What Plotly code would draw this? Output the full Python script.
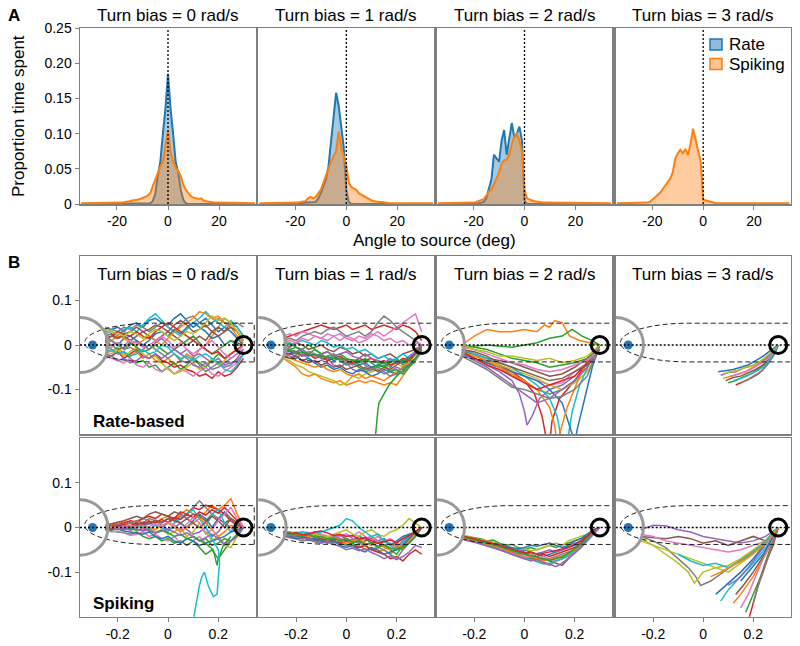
import plotly.graph_objects as go

W, H = 800, 646
FONT = "Liberation Sans, Arial, sans-serif"
FRAME = "#7f7f7f"
TAB10 = ["#1f77b4", "#ff7f0e", "#2ca02c", "#d62728", "#9467bd",
         "#8c564b", "#e377c2", "#7f7f7f", "#bcbd22", "#17becf"]

BIASES = ["0", "1", "2", "3"]
PANEL_TITLES = ["Turn bias = %s rad/s" % b for b in BIASES]
LEGEND_NAMES = ["Rate", "Spiking"]

# ---------------- Panel A: histograms (angle bins -34..34 deg) ----------------
HIST_ANGLES = list(range(-34, 35))

RATE_B0 = [0, 0, 0, 0, 0, 0, 0, 0, 0, 0,
           0, 0, 0, 0, 0, 0, 0, 0, 0, 0,
           0, 0, 0, 0, 0, 0, 0, 0.001, 0.004, 0.015,
           0.040, 0.060, 0.100, 0.135, 0.185, 0.135, 0.100, 0.060, 0.045, 0.020,
           0.006, 0.001, 0, 0, 0, 0, 0, 0, 0, 0,
           0, 0, 0, 0, 0, 0, 0, 0, 0, 0,
           0, 0, 0, 0, 0, 0, 0, 0, 0]
SPIKE_B0 = [0.001, 0.001, 0.001, 0.001, 0.001, 0.001, 0.001, 0.001, 0.001, 0.001,
            0.001, 0.001, 0.001, 0.001, 0.001, 0.002, 0.002, 0.003, 0.003, 0.004,
            0.005, 0.005, 0.006, 0.007, 0.008, 0.010, 0.012, 0.015, 0.025, 0.035,
            0.045, 0.053, 0.060, 0.080, 0.105, 0.075, 0.060, 0.052, 0.047, 0.040,
            0.027, 0.020, 0.015, 0.011, 0.009, 0.008, 0.007, 0.008, 0.005, 0.004,
            0.003, 0.003, 0.002, 0.002, 0.002, 0.001, 0.001, 0.001, 0.001, 0.001,
            0.001, 0.001, 0.001, 0.001, 0.001, 0.001, 0.001, 0.001, 0.001]
RATE_B1 = [0, 0, 0, 0, 0, 0, 0, 0, 0, 0,
           0, 0, 0, 0, 0.001, 0.001, 0.001, 0.001, 0.002, 0.002,
           0.002, 0.002, 0.003, 0.008, 0.015, 0.025, 0.035, 0.053, 0.090, 0.130,
           0.158, 0.140, 0.110, 0.080, 0.020, 0.003, 0, 0, 0, 0,
           0, 0, 0, 0, 0, 0, 0, 0, 0, 0,
           0, 0, 0, 0, 0, 0, 0, 0, 0, 0,
           0, 0, 0, 0, 0, 0, 0, 0, 0]
SPIKE_B1 = [0.001, 0.001, 0.001, 0.001, 0.001, 0.001, 0.001, 0.001, 0.001, 0.002,
            0.001, 0.001, 0.001, 0.001, 0.002, 0.002, 0.003, 0.003, 0.004, 0.008,
            0.010, 0.008, 0.010, 0.015, 0.020, 0.030, 0.040, 0.052, 0.060, 0.068,
            0.075, 0.103, 0.080, 0.068, 0.055, 0.030, 0.024, 0.022, 0.020, 0.015,
            0.013, 0.010, 0.008, 0.006, 0.005, 0.004, 0.003, 0.003, 0.003, 0.002,
            0.002, 0.001, 0.001, 0.001, 0.001, 0.001, 0.001, 0.001, 0.001, 0.001,
            0.001, 0.001, 0.001, 0.001, 0.001, 0.001, 0.001, 0.001, 0.001]
RATE_B2 = [0, 0, 0, 0, 0, 0, 0, 0, 0, 0,
           0, 0, 0, 0.001, 0.001, 0.001, 0.001, 0.002, 0.003, 0.008,
           0.020, 0.035, 0.070, 0.065, 0.060, 0.090, 0.105, 0.070, 0.090, 0.115,
           0.095, 0.100, 0.110, 0.090, 0.005, 0, 0, 0, 0, 0,
           0, 0, 0, 0, 0, 0, 0, 0, 0, 0,
           0, 0, 0, 0, 0, 0, 0, 0, 0, 0,
           0, 0, 0, 0, 0, 0, 0, 0, 0]
SPIKE_B2 = [0.001, 0.001, 0.001, 0.001, 0.001, 0.001, 0.001, 0.001, 0.001, 0.001,
            0.001, 0.001, 0.002, 0.002, 0.002, 0.003, 0.004, 0.005, 0.007, 0.012,
            0.018, 0.020, 0.028, 0.035, 0.045, 0.058, 0.062, 0.063, 0.070, 0.085,
            0.096, 0.100, 0.090, 0.075, 0.020, 0.008, 0.006, 0.005, 0.004, 0.003,
            0.003, 0.002, 0.002, 0.002, 0.002, 0.001, 0.001, 0.001, 0.001, 0.001,
            0.001, 0.001, 0.001, 0.001, 0.001, 0.001, 0.001, 0.001, 0.001, 0.001,
            0.001, 0.001, 0.001, 0.001, 0.001, 0.001, 0.001, 0.001, 0.001]
SPIKE_B3 = [0.001, 0.001, 0.001, 0.001, 0.001, 0.001, 0.001, 0.001, 0.001, 0.001,
            0.001, 0.001, 0.002, 0.003, 0.006, 0.009, 0.012, 0.016, 0.021, 0.026,
            0.030, 0.036, 0.045, 0.065, 0.072, 0.077, 0.072, 0.078, 0.070, 0.085,
            0.107, 0.090, 0.075, 0.060, 0.006, 0.005, 0.004, 0.003, 0.001, 0.001,
            0.001, 0.001, 0.001, 0.001, 0.001, 0.001, 0.001, 0.001, 0.001, 0.001,
            0.001, 0.001, 0.001, 0.001, 0.001, 0.001, 0.001, 0.001, 0.001, 0.001,
            0.001, 0.001, 0.001, 0.001, 0.001, 0.001, 0.001, 0.001, 0.001]
RATE_HIST = [RATE_B0, RATE_B1, RATE_B2, None]
SPIKE_HIST = [SPIKE_B0, SPIKE_B1, SPIKE_B2, SPIKE_B3]

# ---------------- Panel B: trajectories (x, y in m) ----------------
GRID_X = [-0.25, -0.225, -0.2, -0.175, -0.15, -0.125, -0.1, -0.075, -0.05, -0.025, 0.0,
          0.025, 0.05, 0.075, 0.1, 0.125, 0.15, 0.175, 0.2, 0.225, 0.25, 0.275, 0.3]

RATE_TRAJ_B0 = [
    [0.03, 0.035, 0.04, 0.03, 0.045, 0.05, 0.04, 0.055, 0.06, 0.05, 0.045, 0.06, 0.07, 0.055, 0.04, 0.05, 0.06, 0.045, 0.03, 0.04, 0.03, 0.015, 0.0],
    [-0.01, -0.015, -0.005, -0.02, -0.025, -0.015, -0.03, -0.02, -0.035, -0.04, -0.03, -0.045, -0.035, -0.02, -0.03, -0.01, 0.0, 0.02, 0.04, 0.06, 0.05, 0.03, 0.01],
    [0.0, -0.01, -0.02, -0.015, -0.03, -0.04, -0.035, -0.05, -0.045, -0.06, -0.05, -0.04, -0.055, -0.045, -0.03, -0.04, -0.05, -0.035, -0.02, -0.03, -0.02, -0.01, 0.0],
    [-0.02, -0.025, -0.015, -0.03, -0.02, -0.01, -0.025, -0.03, -0.02, -0.035, -0.04, -0.05, -0.045, -0.055, -0.06, -0.07, -0.065, -0.075, -0.06, -0.07, -0.065, -0.05, -0.03],
    [0.01, 0.0, 0.005, -0.01, 0.0, 0.01, 0.0, -0.01, 0.005, 0.015, 0.0, -0.01, -0.02, -0.01, -0.025, -0.02, -0.03, -0.04, -0.03, -0.045, -0.04, -0.035, -0.02],
    [0.02, 0.025, 0.015, 0.02, 0.01, 0.02, 0.03, 0.02, 0.01, 0.02, 0.03, 0.02, 0.01, 0.0, 0.01, 0.02, 0.01, 0.03, 0.04, 0.03, 0.05, 0.04, 0.02],
    [-0.025, -0.03, -0.035, -0.04, -0.03, -0.045, -0.05, -0.04, -0.055, -0.06, -0.05, -0.065, -0.055, -0.06, -0.07, -0.06, -0.05, -0.065, -0.07, -0.06, -0.05, -0.04, -0.02],
    [0.04, 0.035, 0.03, 0.04, 0.035, 0.045, 0.04, 0.03, 0.04, 0.05, 0.04, 0.03, 0.045, 0.06, 0.065, 0.05, 0.04, 0.05, 0.06, 0.05, 0.045, 0.05, 0.04],
    [-0.015, -0.02, -0.01, -0.025, -0.015, -0.005, -0.02, -0.03, -0.025, -0.04, -0.055, -0.065, -0.06, -0.05, -0.04, -0.055, -0.045, -0.03, -0.045, -0.035, -0.02, -0.01, 0.0],
    [0.025, 0.03, 0.02, 0.035, 0.04, 0.03, 0.045, 0.06, 0.07, 0.055, 0.04, 0.03, 0.02, 0.035, 0.05, 0.06, 0.075, 0.06, 0.05, 0.04, 0.055, 0.04, 0.02],
    [0.005, 0.01, 0.0, 0.015, 0.02, 0.01, 0.0, 0.01, 0.025, 0.03, 0.02, 0.035, 0.025, 0.04, 0.05, 0.04, 0.03, 0.015, 0.02, 0.0, 0.01, 0.005, 0.0],
    [0.0, 0.01, 0.02, 0.015, 0.005, 0.0, 0.01, 0.02, 0.01, 0.0, 0.015, 0.03, 0.04, 0.05, 0.06, 0.075, 0.07, 0.06, 0.065, 0.05, 0.04, 0.02, 0.005],
    [-0.005, 0.0, -0.01, -0.005, 0.005, -0.005, -0.015, -0.01, 0.0, -0.01, -0.02, -0.01, 0.0, 0.01, 0.02, 0.005, -0.01, -0.02, -0.01, 0.0, 0.01, 0.0, 0.0],
    [0.015, 0.02, 0.03, 0.025, 0.02, 0.03, 0.02, 0.015, 0.03, 0.04, 0.05, 0.04, 0.03, 0.02, 0.01, 0.0, -0.01, -0.02, -0.015, -0.03, -0.02, -0.01, 0.0],
    [-0.03, -0.025, -0.035, -0.03, -0.04, -0.035, -0.025, -0.03, -0.02, -0.03, -0.02, -0.01, -0.02, -0.03, -0.045, -0.05, -0.04, -0.055, -0.05, -0.04, -0.03, -0.02, -0.01],
    [0.01, 0.02, 0.015, 0.025, 0.03, 0.04, 0.03, 0.035, 0.045, 0.04, 0.03, 0.045, 0.055, 0.045, 0.03, 0.035, 0.045, 0.03, 0.02, 0.03, 0.04, 0.03, 0.01],
    [-0.01, -0.005, 0.005, 0.0, 0.01, 0.005, -0.005, 0.0, 0.01, 0.02, 0.01, -0.005, 0.005, -0.01, -0.02, -0.01, 0.0, 0.01, -0.005, -0.02, -0.03, -0.02, 0.0],
    [0.02, 0.01, 0.0, -0.01, -0.005, -0.015, -0.01, 0.0, -0.01, -0.02, -0.03, -0.02, -0.035, -0.04, -0.03, -0.045, -0.06, -0.05, -0.04, -0.05, -0.045, -0.03, -0.01],
    [0.035, 0.03, 0.025, 0.02, 0.03, 0.025, 0.015, 0.025, 0.035, 0.03, 0.02, 0.01, 0.02, 0.03, 0.025, 0.035, 0.05, 0.065, 0.055, 0.06, 0.05, 0.03, 0.01],
    [-0.02, -0.01, -0.02, -0.015, -0.025, -0.02, -0.01, -0.02, -0.015, 0.0, -0.005, -0.02, -0.03, -0.025, -0.035, -0.025, -0.02, -0.03, -0.04, -0.055, -0.06, -0.045, -0.02],
]
RATE_TRAJ_B1 = [
    [-0.01, -0.015, -0.02, -0.015, -0.025, -0.02, -0.03, -0.025, -0.035, -0.03, -0.04, -0.035, -0.045, -0.04, -0.05, -0.045, -0.04, -0.05, -0.035, -0.04, -0.03, -0.02, 0.0],
    [-0.03, -0.04, -0.05, -0.065, -0.07, -0.065, -0.075, -0.08, -0.085, -0.08, -0.09, -0.085, -0.08, -0.085, -0.08, -0.085, -0.09, -0.085, -0.09, -0.07, -0.05, -0.03, -0.01],
    [-0.005, -0.01, -0.005, -0.015, -0.02, -0.01, -0.02, -0.03, -0.025, -0.035, -0.045, -0.04, -0.05, -0.06, -0.055, -0.045, -0.05, -0.04, -0.03, -0.045, -0.035, -0.02, -0.01],
    [0.015, 0.02, 0.025, 0.03, 0.035, 0.04, 0.045, 0.04, 0.035, 0.04, 0.045, 0.035, 0.04, 0.045, 0.035, 0.04, 0.045, 0.04, 0.035, 0.045, 0.04, 0.03, 0.01],
    [-0.02, -0.025, -0.03, -0.02, -0.03, -0.04, -0.035, -0.03, -0.045, -0.05, -0.04, -0.055, -0.06, -0.05, -0.06, -0.055, -0.065, -0.06, -0.05, -0.055, -0.04, -0.03, -0.01],
    [0.0, -0.005, 0.005, 0.0, -0.01, -0.005, 0.0, -0.01, -0.015, -0.005, -0.01, -0.02, -0.015, -0.025, -0.02, -0.03, -0.025, -0.02, -0.03, -0.02, -0.015, -0.01, 0.0],
    [0.02, 0.025, 0.02, 0.03, 0.025, 0.02, 0.015, 0.025, 0.02, 0.01, 0.02, 0.015, 0.005, 0.01, 0.02, 0.03, 0.02, 0.03, 0.04, 0.05, 0.06, 0.07, 0.03],
    [0.01, 0.015, 0.01, 0.02, 0.025, 0.03, 0.025, 0.035, 0.04, 0.03, 0.02, 0.025, 0.03, 0.02, 0.03, 0.05, 0.065, 0.055, 0.04, 0.03, 0.02, 0.01, 0.0],
    [-0.03, -0.035, -0.045, -0.05, -0.06, -0.065, -0.07, -0.075, -0.08, -0.09, -0.085, -0.07, -0.075, -0.065, -0.06, -0.05, -0.055, -0.045, -0.04, -0.05, -0.035, -0.02, -0.005],
    [0.005, 0.0, 0.005, 0.01, 0.005, 0.0, 0.01, 0.005, -0.005, 0.0, -0.01, -0.005, -0.015, -0.01, -0.02, -0.03, -0.025, -0.035, -0.03, -0.02, -0.03, -0.015, 0.0],
    [-0.015, -0.02, -0.025, -0.035, -0.03, -0.04, -0.05, -0.045, -0.055, -0.05, -0.06, -0.065, -0.055, -0.06, -0.07, -0.065, -0.055, -0.06, -0.065, -0.05, -0.045, -0.03, -0.01],
    [-0.025, -0.03, -0.035, -0.04, -0.045, -0.05, -0.045, -0.055, -0.06, -0.055, -0.065, -0.07, -0.065, -0.075, -0.07, -0.075, -0.08, -0.07, -0.06, -0.05, -0.04, -0.02, -0.01],
    [0.0, 0.005, -0.005, -0.01, 0.0, -0.01, -0.02, -0.015, -0.025, -0.02, -0.03, -0.035, -0.04, -0.03, -0.04, -0.05, -0.045, -0.06, -0.055, -0.065, -0.05, -0.03, -0.01],
    [-0.02, -0.02, -0.015, -0.025, -0.02, -0.03, -0.025, -0.035, -0.03, -0.025, -0.035, -0.04, -0.03, -0.035, -0.03, -0.04, -0.035, -0.045, -0.04, -0.03, -0.035, -0.02, 0.0],
    [-0.005, -0.01, -0.015, -0.01, -0.02, -0.025, -0.02, -0.015, -0.025, -0.02, -0.015, -0.025, -0.03, -0.02, -0.03, -0.035, -0.04, -0.03, -0.04, -0.035, -0.025, -0.015, 0.0],
    [-0.025, -0.03, -0.025, -0.035, -0.04, -0.035, -0.045, -0.04, -0.05, -0.045, -0.055, -0.05, -0.045, -0.055, -0.05, -0.06, -0.05, -0.055, -0.045, -0.035, -0.03, -0.02, -0.005],
    [0.005, 0.01, 0.005, 0.015, 0.01, 0.02, 0.015, 0.01, 0.02, 0.025, 0.015, 0.01, 0.02, 0.015, 0.025, 0.02, 0.01, 0.015, 0.005, 0.01, 0.0, 0.005, 0.0],
    [-0.015, -0.01, -0.02, -0.025, -0.015, -0.02, -0.03, -0.025, -0.02, -0.03, -0.04, -0.045, -0.035, -0.045, -0.055, -0.05, -0.06, -0.07, -0.065, -0.06, -0.05, -0.035, -0.015],
]
RATE_B1_LOOP_X = [-0.25, -0.15, -0.05, 0.05, 0.15, 0.22, 0.25, 0.27, 0.24, 0.2, 0.17, 0.15, 0.13, 0.125, 0.12, 0.115]
RATE_B1_LOOP_Y = [-0.01, -0.02, -0.03, -0.035, -0.04, -0.035, -0.03, -0.04, -0.05, -0.07, -0.09, -0.11, -0.13, -0.15, -0.18, -0.21]

RATE_TRAJ_B2 = [
    ([-0.25, -0.2, -0.15, -0.1, -0.05, 0.0, 0.05, 0.08, 0.1, 0.12, 0.15, 0.18, 0.22, 0.26, 0.3],
     [0.0, 0.02, 0.035, 0.03, 0.03, 0.035, 0.03, 0.045, 0.04, 0.055, 0.05, 0.02, 0.01, 0.005, 0.0]),
    ([-0.25, -0.15, -0.05, 0.0, 0.05, 0.1, 0.15, 0.19, 0.23, 0.27, 0.3],
     [-0.005, 0.0, -0.005, 0.0, 0.005, 0.015, 0.02, 0.035, 0.02, 0.01, 0.0]),
    ([-0.25, -0.2, -0.15, -0.1, -0.05, 0.0, 0.04, 0.07, 0.09, 0.1, 0.11, 0.14, 0.2, 0.25, 0.3],
     [-0.01, -0.02, -0.03, -0.045, -0.06, -0.08, -0.11, -0.16, -0.22, -0.22, -0.17, -0.12, -0.08, -0.04, 0.0]),
    ([-0.25, -0.2, -0.15, -0.1, -0.05, -0.02, 0.0, 0.01, 0.03, 0.06, 0.1, 0.15, 0.2, 0.25, 0.3],
     [-0.02, -0.03, -0.045, -0.06, -0.08, -0.11, -0.15, -0.18, -0.16, -0.12, -0.1, -0.09, -0.07, -0.04, 0.0]),
    ([-0.25, -0.2, -0.15, -0.1, -0.05, 0.0, 0.05, 0.1, 0.15, 0.2, 0.25, 0.28, 0.3],
     [-0.015, -0.02, -0.03, -0.035, -0.04, -0.05, -0.06, -0.07, -0.065, -0.05, -0.03, -0.02, 0.0]),
    ([-0.25, -0.2, -0.15, -0.1, -0.05, 0.0, 0.05, 0.1, 0.15, 0.2, 0.25, 0.28, 0.3],
     [-0.02, -0.03, -0.04, -0.05, -0.06, -0.07, -0.08, -0.09, -0.085, -0.06, -0.04, -0.02, 0.0]),
    ([-0.25, -0.2, -0.15, -0.1, -0.05, 0.0, 0.05, 0.1, 0.15, 0.2, 0.25, 0.28, 0.3],
     [-0.01, -0.02, -0.04, -0.05, -0.07, -0.08, -0.1, -0.11, -0.1, -0.08, -0.05, -0.02, 0.0]),
    ([-0.25, -0.2, -0.15, -0.1, -0.05, 0.0, 0.05, 0.1, 0.15, 0.2, 0.25, 0.28, 0.3],
     [-0.02, -0.025, -0.035, -0.045, -0.055, -0.065, -0.075, -0.09, -0.1, -0.085, -0.06, -0.03, 0.0]),
    ([-0.25, -0.2, -0.15, -0.1, -0.05, 0.0, 0.05, 0.1, 0.13, 0.15, 0.17, 0.19, 0.22, 0.26, 0.3],
     [-0.01, -0.02, -0.03, -0.04, -0.05, -0.07, -0.09, -0.12, -0.16, -0.22, -0.22, -0.15, -0.09, -0.04, 0.0]),
    ([-0.25, -0.2, -0.15, -0.1, -0.05, 0.0, 0.05, 0.1, 0.15, 0.19, 0.2, 0.21, 0.24, 0.27, 0.3],
     [-0.02, -0.03, -0.04, -0.05, -0.06, -0.07, -0.08, -0.1, -0.13, -0.2, -0.22, -0.19, -0.12, -0.05, 0.0]),
    ([-0.25, -0.2, -0.15, -0.1, -0.05, 0.0, 0.05, 0.1, 0.12, 0.13, 0.14, 0.17, 0.22, 0.26, 0.3],
     [-0.015, -0.025, -0.035, -0.05, -0.065, -0.08, -0.1, -0.14, -0.18, -0.22, -0.2, -0.14, -0.07, -0.03, 0.0]),
    ([-0.25, -0.2, -0.15, -0.1, -0.05, 0.0, 0.05, 0.1, 0.15, 0.2, 0.25, 0.28, 0.3],
     [0.0, -0.005, -0.01, -0.02, -0.03, -0.035, -0.04, -0.05, -0.045, -0.04, -0.03, -0.015, 0.0]),
    ([-0.25, -0.2, -0.15, -0.1, -0.05, 0.0, 0.05, 0.1, 0.15, 0.2, 0.25, 0.28, 0.3],
     [-0.015, -0.03, -0.045, -0.055, -0.07, -0.085, -0.1, -0.09, -0.08, -0.07, -0.04, -0.02, 0.0]),
    ([-0.25, -0.2, -0.15, -0.1, -0.05, 0.0, 0.05, 0.1, 0.15, 0.2, 0.25, 0.28, 0.3],
     [-0.02, -0.035, -0.05, -0.07, -0.09, -0.11, -0.13, -0.12, -0.1, -0.08, -0.05, -0.02, 0.0]),
    ([-0.25, -0.2, -0.15, -0.1, -0.05, 0.0, 0.05, 0.1, 0.15, 0.2, 0.25, 0.28, 0.3],
     [-0.01, -0.015, -0.025, -0.04, -0.05, -0.06, -0.07, -0.08, -0.075, -0.06, -0.045, -0.03, -0.01]),
    ([-0.25, -0.2, -0.15, -0.1, -0.05, 0.0, 0.05, 0.1, 0.15, 0.2, 0.25, 0.28, 0.3],
     [-0.005, -0.01, -0.02, -0.03, -0.04, -0.045, -0.055, -0.06, -0.055, -0.045, -0.035, -0.02, 0.0]),
    ([-0.25, -0.2, -0.15, -0.1, -0.05, 0.0, 0.05, 0.1, 0.15, 0.2, 0.25, 0.28, 0.3],
     [-0.025, -0.04, -0.055, -0.075, -0.095, -0.1, -0.11, -0.12, -0.115, -0.1, -0.07, -0.03, 0.0]),
    ([-0.25, -0.2, -0.15, -0.1, -0.05, 0.0, 0.05, 0.1, 0.15, 0.2, 0.25, 0.28, 0.3],
     [0.0, -0.01, -0.015, -0.025, -0.025, -0.03, -0.035, -0.03, -0.04, -0.035, -0.025, -0.01, 0.0]),
]

RATE_TRAJ_B3 = [
    ([0.06, 0.09, 0.12, 0.15, 0.18, 0.21, 0.24, 0.27, 0.3], [-0.06, -0.058, -0.055, -0.05, -0.045, -0.035, -0.025, -0.012, 0.0]),
    ([0.08, 0.11, 0.14, 0.17, 0.2, 0.23, 0.26, 0.28, 0.3], [-0.075, -0.07, -0.066, -0.06, -0.05, -0.04, -0.028, -0.015, 0.0]),
    ([0.1, 0.13, 0.16, 0.19, 0.22, 0.25, 0.27, 0.29, 0.3], [-0.085, -0.08, -0.072, -0.065, -0.055, -0.04, -0.028, -0.012, 0.0]),
    ([0.13, 0.16, 0.19, 0.22, 0.24, 0.26, 0.28, 0.3], [-0.09, -0.082, -0.075, -0.065, -0.055, -0.04, -0.025, 0.0]),
    ([0.07, 0.1, 0.13, 0.16, 0.19, 0.22, 0.25, 0.28, 0.3], [-0.068, -0.062, -0.06, -0.052, -0.048, -0.04, -0.03, -0.015, 0.0]),
    ([0.09, 0.12, 0.15, 0.18, 0.21, 0.24, 0.27, 0.29, 0.3], [-0.08, -0.073, -0.07, -0.062, -0.055, -0.045, -0.03, -0.015, 0.0]),
    ([0.11, 0.14, 0.17, 0.2, 0.23, 0.26, 0.28, 0.3], [-0.07, -0.066, -0.06, -0.052, -0.042, -0.03, -0.018, 0.0]),
    ([0.15, 0.18, 0.2, 0.22, 0.24, 0.26, 0.28, 0.3], [-0.085, -0.078, -0.07, -0.064, -0.055, -0.042, -0.025, 0.0]),
    ([0.08, 0.11, 0.14, 0.17, 0.2, 0.23, 0.26, 0.29, 0.3], [-0.065, -0.06, -0.057, -0.05, -0.046, -0.036, -0.022, -0.008, 0.0]),
    ([0.12, 0.15, 0.18, 0.21, 0.24, 0.27, 0.3], [-0.08, -0.075, -0.068, -0.06, -0.05, -0.03, 0.0]),
]

SPIKE_TRAJ_B0 = [
    [0.0, 0.002, 0.005, 0.0, -0.005, 0.0, 0.005, 0.01, 0.005, 0.0, 0.01, 0.02, 0.01, 0.0, 0.015, 0.03, 0.02, 0.0, 0.02, 0.035, 0.02, 0.01, 0.0],
    [0.0, 0.005, 0.01, 0.012, 0.01, 0.015, 0.02, 0.015, 0.01, 0.02, 0.025, 0.015, 0.03, 0.04, 0.03, 0.02, 0.035, 0.05, 0.04, 0.05, 0.065, 0.03, 0.0],
    [-0.005, -0.008, -0.01, -0.012, -0.015, -0.01, -0.02, -0.025, -0.02, -0.03, -0.025, -0.035, -0.03, -0.04, -0.03, -0.045, -0.06, -0.05, -0.07, -0.05, -0.03, -0.02, 0.0],
    [0.002, 0.004, 0.006, 0.01, 0.015, 0.012, 0.02, 0.025, 0.02, 0.03, 0.025, 0.02, 0.035, 0.03, 0.045, 0.04, 0.05, 0.045, 0.04, 0.03, 0.015, 0.005, 0.0],
    [-0.003, 0.0, 0.005, 0.008, 0.01, 0.005, 0.0, 0.01, 0.015, 0.005, -0.005, 0.0, 0.01, -0.005, -0.015, -0.01, 0.0, -0.02, -0.01, 0.01, 0.0, -0.01, 0.0],
    [0.005, 0.008, 0.012, 0.015, 0.02, 0.025, 0.02, 0.03, 0.035, 0.03, 0.025, 0.035, 0.03, 0.02, 0.03, 0.025, 0.015, 0.03, 0.02, 0.01, 0.02, 0.01, 0.0],
    [-0.005, -0.01, -0.008, -0.012, -0.018, -0.015, -0.01, -0.02, -0.015, -0.025, -0.03, -0.02, -0.035, -0.025, -0.03, -0.02, -0.035, -0.03, -0.025, -0.035, -0.03, -0.015, 0.0],
    [0.0, 0.003, 0.0, 0.006, 0.01, 0.015, 0.01, 0.02, 0.015, 0.01, 0.02, 0.015, 0.025, 0.03, 0.045, 0.06, 0.045, 0.03, 0.02, 0.03, 0.02, 0.01, 0.0],
    [0.0, -0.002, 0.0, -0.005, 0.0, -0.008, -0.005, 0.0, -0.01, -0.005, -0.015, -0.01, 0.0, -0.02, -0.01, 0.01, -0.01, -0.03, -0.02, -0.04, -0.045, -0.02, 0.0],
    [0.0, 0.002, 0.0, 0.002, -0.002, 0.0, 0.005, -0.005, 0.005, 0.0, -0.01, 0.01, 0.02, 0.03, 0.04, 0.02, 0.0, 0.03, 0.04, 0.01, -0.01, 0.01, 0.0],
    [-0.002, -0.005, -0.003, -0.008, -0.01, -0.012, -0.015, -0.01, -0.02, -0.025, -0.02, -0.03, -0.035, -0.025, -0.03, -0.04, -0.035, -0.03, -0.025, -0.02, -0.01, -0.005, 0.0],
    [0.003, 0.0, -0.003, 0.0, 0.004, 0.008, 0.005, 0.0, -0.005, 0.005, 0.01, 0.0, -0.01, 0.0, 0.01, 0.02, 0.01, -0.005, -0.02, -0.01, 0.005, 0.0, 0.0],
    [0.001, 0.003, 0.0, -0.004, -0.002, -0.006, -0.003, -0.008, -0.012, -0.006, -0.012, -0.02, -0.015, -0.025, -0.02, -0.03, -0.025, -0.04, -0.035, -0.025, -0.03, -0.015, 0.0],
    [-0.002, 0.0, 0.003, 0.006, 0.004, 0.01, 0.008, 0.014, 0.01, 0.018, 0.012, 0.022, 0.018, 0.03, 0.022, 0.035, 0.028, 0.04, 0.032, 0.045, 0.03, 0.015, 0.0],
    [0.002, -0.002, -0.004, 0.0, -0.006, -0.003, -0.008, -0.005, -0.012, -0.008, -0.004, -0.01, -0.018, -0.012, -0.02, -0.03, -0.022, -0.015, -0.025, -0.04, -0.03, -0.02, 0.0],
    [-0.004, -0.002, 0.002, 0.004, 0.0, 0.006, 0.012, 0.008, 0.016, 0.012, 0.02, 0.015, 0.01, 0.02, 0.01, 0.0, 0.012, 0.025, 0.015, 0.0, 0.02, 0.01, 0.0],
    [0.0, 0.001, -0.001, 0.003, 0.005, 0.002, -0.003, 0.003, 0.008, 0.003, 0.012, 0.006, -0.006, 0.008, 0.022, 0.01, -0.015, -0.005, 0.015, 0.03, 0.045, 0.02, 0.0],
]
SPIKE_B0_OUT_X = [0.15, 0.17, 0.19, 0.2, 0.205, 0.2, 0.195, 0.18, 0.16, 0.145, 0.135, 0.125, 0.115, 0.1]
SPIKE_B0_OUT_Y = [0.0, -0.02, -0.04, -0.05, -0.08, -0.12, -0.15, -0.155, -0.13, -0.1, -0.11, -0.13, -0.16, -0.21]
SPIKE_B0_OUT2_X = [0.1, 0.13, 0.16, 0.18, 0.19, 0.195, 0.2, 0.22, 0.25]
SPIKE_B0_OUT2_Y = [-0.02, -0.03, -0.04, -0.05, -0.07, -0.085, -0.07, -0.04, -0.02]

SPIKE_TRAJ_B1 = [
    [-0.01, -0.015, -0.012, -0.018, -0.02, -0.015, -0.02, -0.025, -0.02, -0.018, -0.025, -0.03, -0.02, -0.025, -0.035, -0.03, -0.025, -0.04, -0.03, -0.02, -0.015, -0.01, 0.0],
    [-0.012, -0.015, -0.02, -0.022, -0.025, -0.03, -0.028, -0.032, -0.035, -0.03, -0.038, -0.045, -0.04, -0.05, -0.045, -0.055, -0.05, -0.06, -0.045, -0.05, -0.03, -0.015, 0.0],
    [-0.015, -0.018, -0.02, -0.025, -0.022, -0.028, -0.03, -0.025, -0.03, -0.035, -0.04, -0.035, -0.045, -0.04, -0.05, -0.045, -0.04, -0.05, -0.06, -0.04, -0.025, -0.01, 0.0],
    [-0.01, -0.012, -0.015, -0.02, -0.018, -0.022, -0.025, -0.03, -0.028, -0.035, -0.03, -0.04, -0.045, -0.04, -0.05, -0.055, -0.06, -0.07, -0.065, -0.075, -0.06, -0.05, -0.06],
    [-0.008, -0.01, -0.015, -0.01, -0.012, -0.018, -0.015, -0.02, -0.025, -0.02, -0.015, -0.025, -0.03, -0.025, -0.02, -0.03, -0.04, -0.035, -0.045, -0.03, -0.02, -0.01, 0.0],
    [-0.015, -0.018, -0.022, -0.02, -0.025, -0.028, -0.025, -0.03, -0.028, -0.025, -0.03, -0.028, -0.035, -0.03, -0.025, -0.035, -0.03, -0.04, -0.035, -0.025, -0.02, -0.01, 0.0],
    [-0.012, -0.01, -0.015, -0.02, -0.015, -0.01, -0.015, -0.02, -0.018, -0.02, -0.015, -0.02, -0.01, -0.02, -0.03, -0.02, -0.03, -0.025, -0.035, -0.04, -0.03, -0.015, 0.0],
    [-0.02, -0.022, -0.025, -0.03, -0.028, -0.032, -0.035, -0.03, -0.035, -0.028, -0.025, -0.03, -0.035, -0.04, -0.035, -0.045, -0.05, -0.06, -0.07, -0.05, -0.035, -0.02, 0.0],
    [-0.01, -0.012, -0.01, -0.015, -0.02, -0.015, -0.018, -0.022, -0.015, -0.01, -0.005, -0.015, -0.02, -0.01, -0.005, -0.015, -0.02, -0.01, -0.005, 0.005, 0.02, 0.01, 0.0],
    [-0.012, -0.015, -0.012, -0.01, -0.015, -0.012, -0.01, -0.005, 0.0, 0.005, 0.02, 0.015, 0.0, -0.01, -0.02, -0.015, -0.03, -0.04, -0.05, -0.035, -0.02, -0.01, 0.0],
    [-0.018, -0.02, -0.025, -0.022, -0.028, -0.025, -0.03, -0.035, -0.03, -0.04, -0.045, -0.04, -0.05, -0.055, -0.045, -0.05, -0.06, -0.055, -0.05, -0.04, -0.025, -0.01, 0.0],
    [-0.01, -0.013, -0.018, -0.015, -0.02, -0.022, -0.02, -0.025, -0.022, -0.028, -0.035, -0.03, -0.025, -0.035, -0.04, -0.03, -0.045, -0.05, -0.04, -0.045, -0.03, -0.015, 0.0],
    [-0.015, -0.012, -0.017, -0.02, -0.016, -0.022, -0.02, -0.026, -0.024, -0.03, -0.026, -0.034, -0.03, -0.038, -0.034, -0.042, -0.038, -0.046, -0.05, -0.045, -0.035, -0.02, 0.0],
    [-0.01, -0.014, -0.012, -0.016, -0.014, -0.01, -0.008, -0.012, -0.018, -0.015, -0.02, -0.018, -0.026, -0.022, -0.03, -0.036, -0.032, -0.028, -0.034, -0.025, -0.018, -0.008, 0.0],
    [-0.02, -0.018, -0.022, -0.026, -0.024, -0.03, -0.034, -0.032, -0.038, -0.042, -0.05, -0.046, -0.052, -0.048, -0.056, -0.062, -0.07, -0.064, -0.072, -0.065, -0.055, -0.04, -0.045],
]

SPIKE_TRAJ_B2 = [
    [-0.02, -0.022, -0.025, -0.028, -0.03, -0.035, -0.04, -0.045, -0.05, -0.055, -0.05, -0.055, -0.06, -0.065, -0.06, -0.055, -0.05, -0.045, -0.04, -0.03, -0.02, -0.01, 0.0],
    [-0.022, -0.025, -0.028, -0.032, -0.035, -0.04, -0.045, -0.05, -0.055, -0.06, -0.065, -0.07, -0.075, -0.08, -0.085, -0.075, -0.07, -0.06, -0.05, -0.04, -0.03, -0.015, 0.0],
    [-0.018, -0.02, -0.022, -0.025, -0.03, -0.028, -0.035, -0.04, -0.038, -0.045, -0.05, -0.045, -0.05, -0.045, -0.04, -0.045, -0.04, -0.035, -0.03, -0.025, -0.02, -0.01, 0.0],
    [-0.025, -0.028, -0.03, -0.035, -0.038, -0.042, -0.045, -0.05, -0.055, -0.06, -0.058, -0.062, -0.065, -0.06, -0.065, -0.06, -0.055, -0.05, -0.045, -0.035, -0.02, -0.01, 0.0],
    [-0.02, -0.024, -0.026, -0.03, -0.034, -0.038, -0.042, -0.048, -0.052, -0.05, -0.055, -0.06, -0.058, -0.055, -0.05, -0.055, -0.05, -0.04, -0.035, -0.03, -0.02, -0.01, 0.0],
    [-0.025, -0.03, -0.032, -0.036, -0.04, -0.045, -0.05, -0.055, -0.06, -0.065, -0.07, -0.068, -0.072, -0.07, -0.075, -0.08, -0.085, -0.07, -0.055, -0.04, -0.025, -0.012, 0.0],
    [-0.02, -0.023, -0.027, -0.03, -0.035, -0.04, -0.045, -0.05, -0.055, -0.06, -0.065, -0.06, -0.07, -0.065, -0.07, -0.075, -0.07, -0.065, -0.055, -0.045, -0.03, -0.015, 0.0],
    [-0.022, -0.026, -0.03, -0.033, -0.036, -0.04, -0.044, -0.048, -0.053, -0.058, -0.06, -0.065, -0.068, -0.072, -0.07, -0.065, -0.06, -0.055, -0.05, -0.04, -0.025, -0.01, 0.0],
    [-0.018, -0.02, -0.024, -0.027, -0.03, -0.033, -0.038, -0.042, -0.046, -0.05, -0.048, -0.052, -0.05, -0.045, -0.04, -0.035, -0.04, -0.03, -0.025, -0.02, -0.015, -0.005, 0.0],
    [-0.024, -0.027, -0.031, -0.034, -0.038, -0.043, -0.048, -0.053, -0.058, -0.063, -0.068, -0.073, -0.078, -0.082, -0.08, -0.076, -0.07, -0.063, -0.055, -0.045, -0.03, -0.015, 0.0],
    [-0.02, -0.022, -0.025, -0.03, -0.033, -0.036, -0.04, -0.043, -0.045, -0.048, -0.045, -0.04, -0.042, -0.038, -0.035, -0.04, -0.045, -0.04, -0.03, -0.025, -0.015, -0.005, 0.0],
    [-0.023, -0.026, -0.03, -0.034, -0.037, -0.041, -0.046, -0.052, -0.057, -0.062, -0.068, -0.065, -0.07, -0.075, -0.072, -0.068, -0.065, -0.06, -0.05, -0.04, -0.025, -0.012, 0.0],
    [-0.021, -0.024, -0.027, -0.031, -0.035, -0.039, -0.043, -0.047, -0.051, -0.056, -0.06, -0.063, -0.066, -0.07, -0.074, -0.07, -0.066, -0.058, -0.048, -0.038, -0.024, -0.01, 0.0],
    [-0.019, -0.022, -0.025, -0.029, -0.032, -0.036, -0.039, -0.044, -0.048, -0.053, -0.057, -0.055, -0.06, -0.058, -0.055, -0.052, -0.048, -0.044, -0.038, -0.03, -0.018, -0.008, 0.0],
    [-0.026, -0.029, -0.033, -0.037, -0.041, -0.045, -0.05, -0.055, -0.06, -0.064, -0.07, -0.075, -0.072, -0.078, -0.082, -0.088, -0.08, -0.07, -0.058, -0.045, -0.028, -0.012, 0.0],
]

SPIKE_TRAJ_B3 = [
    ([-0.25, -0.2, -0.15, -0.1, -0.05, 0.0, 0.05, 0.1, 0.15, 0.2, 0.25, 0.3], [-0.005, 0.005, 0.004, -0.005, -0.01, -0.02, -0.025, -0.03, -0.035, -0.03, -0.02, 0.0]),
    ([-0.25, -0.2, -0.15, -0.1, -0.05, 0.0, 0.05, 0.1, 0.15, 0.2, 0.25, 0.3], [-0.02, -0.022, -0.025, -0.02, -0.025, -0.035, -0.03, -0.04, -0.03, -0.02, -0.03, 0.0]),
    ([-0.25, -0.2, -0.15, -0.1, -0.05, 0.0, 0.05, 0.1, 0.15, 0.2, 0.25, 0.3], [-0.015, -0.02, -0.03, -0.035, -0.04, -0.045, -0.05, -0.055, -0.05, -0.04, -0.03, 0.0]),
    ([-0.25, -0.2, -0.15, -0.1, -0.06, -0.03, -0.01, 0.03, 0.08, 0.13, 0.18, 0.23, 0.27, 0.3], [-0.02, -0.03, -0.045, -0.07, -0.09, -0.11, -0.13, -0.12, -0.1, -0.08, -0.06, -0.04, -0.02, 0.0]),
    ([-0.25, -0.2, -0.15, -0.1, -0.06, -0.035, 0.0, 0.05, 0.1, 0.15, 0.2, 0.25, 0.3], [-0.025, -0.04, -0.06, -0.08, -0.1, -0.125, -0.1, -0.09, -0.085, -0.07, -0.05, -0.03, 0.0]),
    ([0.07, 0.1, 0.15, 0.2, 0.25, 0.28, 0.3], [-0.165, -0.14, -0.11, -0.08, -0.045, -0.02, 0.0]),
    ([0.05, 0.1, 0.15, 0.2, 0.25, 0.3], [-0.15, -0.125, -0.1, -0.07, -0.035, 0.0]),
    ([0.12, 0.15, 0.2, 0.25, 0.28, 0.3], [-0.17, -0.15, -0.11, -0.06, -0.03, 0.0]),
    ([0.17, 0.2, 0.23, 0.26, 0.28, 0.3], [-0.19, -0.15, -0.11, -0.06, -0.03, 0.0]),
    ([0.18, 0.2, 0.22, 0.25, 0.28, 0.3], [-0.21, -0.17, -0.13, -0.08, -0.04, 0.0]),
    ([0.1, 0.14, 0.18, 0.22, 0.26, 0.3], [-0.13, -0.115, -0.09, -0.06, -0.03, 0.0]),
    ([0.13, 0.16, 0.2, 0.24, 0.27, 0.3], [-0.15, -0.13, -0.1, -0.065, -0.035, 0.0]),
    ([0.15, 0.18, 0.21, 0.24, 0.27, 0.3], [-0.18, -0.15, -0.11, -0.07, -0.035, 0.0]),
    ([0.2, 0.22, 0.24, 0.26, 0.28, 0.3], [-0.17, -0.13, -0.1, -0.065, -0.03, 0.0]),
    ([-0.25, -0.15, -0.05, 0.0, 0.05, 0.1, 0.15, 0.2, 0.25, 0.3], [-0.03, -0.05, -0.07, -0.08, -0.09, -0.1, -0.08, -0.06, -0.03, 0.0]),
    ([-0.1, -0.05, 0.0, 0.05, 0.1, 0.15, 0.2, 0.25, 0.3], [-0.06, -0.075, -0.085, -0.08, -0.09, -0.075, -0.055, -0.03, 0.0]),
    ([0.15, 0.18, 0.21, 0.24, 0.27, 0.3], [-0.12, -0.1, -0.08, -0.06, -0.03, 0.0]),
    ([0.03, 0.07, 0.12, 0.17, 0.22, 0.26, 0.3], [-0.11, -0.1, -0.085, -0.07, -0.05, -0.03, 0.0]),
]

SOURCE_XY = (0.3, 0.0)
START_XY = (-0.3, 0.0)

# ---------------- layout geometry (pixels) ----------------
COL_PX = [(80, 256), (258.3, 434.3), (436.7, 612.3), (615.7, 790.7)]
ROW_PX = [(28, 204), (256, 434), (438.3, 616.7)]


def sfx(i):
    return "" if i == 1 else str(i)


def px(x):
    return x / W


def py(y):
    return 1 - y / H


fig = go.Figure()
layout = dict(width=W, height=H, margin=dict(l=0, r=0, t=0, b=0, autoexpand=False),
              paper_bgcolor="white", plot_bgcolor="white",
              font=dict(family=FONT, color="black", size=14),
              showlegend=False)

for r in range(3):
    for c in range(4):
        i = r * 4 + c + 1
        xa = dict(domain=[px(COL_PX[c][0]), px(COL_PX[c][1])], anchor="y" + sfx(i),
                  showline=True, mirror=True, linecolor=FRAME, linewidth=1.5,
                  showgrid=False, zeroline=False, ticks="outside", ticklen=4,
                  tickwidth=1, tickcolor=FRAME, tickfont=dict(size=14, color="black"),
                  automargin=False)
        ya = dict(domain=[py(ROW_PX[r][1]), py(ROW_PX[r][0])], anchor="x" + sfx(i),
                  showline=True, mirror=True, linecolor=FRAME, linewidth=1.5,
                  showgrid=False, zeroline=False, ticks="outside", ticklen=4,
                  tickwidth=1, tickcolor=FRAME, tickfont=dict(size=14, color="black"),
                  automargin=False)
        if r == 0:
            xa.update(range=[-34.5, 34.5], tickvals=[-20, 0, 20], ticktext=["-20", "0", "20"])
            ya.update(range=[0, 0.25], tickvals=[0, 0.05, 0.10, 0.15, 0.20, 0.25],
                      ticktext=["0", "0.05", "0.10", "0.15", "0.20", "0.25"])
        else:
            xa.update(range=[-0.35, 0.35], tickvals=[-0.2, 0, 0.2], ticktext=["-0.2", "0", "0.2"])
            ya.update(range=[-0.2, 0.2], tickvals=[-0.1, 0, 0.1], ticktext=["-0.1", "0", "0.1"])
            if r == 1:
                xa.update(showticklabels=False, ticks="")
        if c != 0:
            ya.update(showticklabels=False, ticks="")
        layout["xaxis" + sfx(i)] = xa
        layout["yaxis" + sfx(i)] = ya

shapes = []
# ---- Panel A histograms ----
for c in range(4):
    i = c + 1
    xr, yr = "x" + sfx(i), "y" + sfx(i)
    if RATE_HIST[c] is not None:
        fig.add_trace(go.Scatter(x=HIST_ANGLES, y=RATE_HIST[c], mode="lines",
                                 line=dict(color=TAB10[0], width=2),
                                 fill="tozeroy", fillcolor="rgba(31,119,180,0.4)",
                                 xaxis=xr, yaxis=yr, hoverinfo="skip"))
    fig.add_trace(go.Scatter(x=HIST_ANGLES, y=SPIKE_HIST[c], mode="lines",
                             line=dict(color=TAB10[1], width=2),
                             fill="tozeroy", fillcolor="rgba(255,127,14,0.4)",
                             xaxis=xr, yaxis=yr, hoverinfo="skip"))
    shapes.append(dict(type="line", xref=xr, yref=yr, x0=0, x1=0, y0=0, y1=0.25,
                       line=dict(color="black", width=1.3, dash="2px,2px"), layer="above"))


# ---- Panel B trajectories ----
def add_traj(i, xs, ys, k):
    fig.add_trace(go.Scatter(x=xs, y=ys, mode="lines",
                             line=dict(color=TAB10[k % 10], width=1.5),
                             xaxis="x" + sfx(i), yaxis="y" + sfx(i), hoverinfo="skip"))


for k, ys in enumerate(RATE_TRAJ_B0):
    add_traj(5, GRID_X, ys, k)
for k, ys in enumerate(RATE_TRAJ_B1):
    add_traj(6, GRID_X, ys, k)
add_traj(6, RATE_B1_LOOP_X, RATE_B1_LOOP_Y, 2)
for k, (xs, ys) in enumerate(RATE_TRAJ_B2):
    add_traj(7, xs, ys, k + 1)
for k, (xs, ys) in enumerate(RATE_TRAJ_B3):
    add_traj(8, xs, ys, k)
for k, ys in enumerate(SPIKE_TRAJ_B0):
    add_traj(9, GRID_X, ys, k)
add_traj(9, SPIKE_B0_OUT2_X, SPIKE_B0_OUT2_Y, 2)
add_traj(9, SPIKE_B0_OUT_X, SPIKE_B0_OUT_Y, 9)
for k, ys in enumerate(SPIKE_TRAJ_B1):
    add_traj(10, GRID_X, ys, k)
for k, ys in enumerate(SPIKE_TRAJ_B2):
    add_traj(11, GRID_X, ys, k)
for k, (xs, ys) in enumerate(SPIKE_TRAJ_B3):
    add_traj(12, xs, ys, k + 4)

# decorations for panel B
XC, A_E, YC, B_E = -0.058, 0.273, 0.0055, 0.0435
KAPPA = 0.5523
for i in range(5, 13):
    xr, yr = "x" + sfx(i), "y" + sfx(i)
    top, bot = YC + B_E, YC - B_E
    cap = ("C %.4f,%.4f %.4f,%.4f %.4f,%.4f "
           "C %.4f,%.4f %.4f,%.4f %.4f,%.4f") % (
        XC - KAPPA * A_E, top, XC - A_E, YC + KAPPA * B_E, XC - A_E, YC,
        XC - A_E, YC - KAPPA * B_E, XC - KAPPA * A_E, bot, XC, bot)
    if i in (5, 9):
        right = 0.343
        path = "M %.4f,%.4f L %.4f,%.4f L %.4f,%.4f %s L %.4f,%.4f" % (
            right, bot, right, top, XC, top, cap, right, bot)
    else:
        right = 0.37
        path = "M %.4f,%.4f L %.4f,%.4f %s L %.4f,%.4f" % (right, top, XC, top, cap, right, bot)
    shapes.append(dict(type="path", xref=xr, yref=yr, path=path,
                       line=dict(color="#222222", width=1, dash="5px,3px"), layer="above"))
    shapes.append(dict(type="line", xref=xr, yref=yr, x0=-0.35, x1=0.35, y0=0, y1=0,
                       line=dict(color="black", width=1.3, dash="2px,2px"), layer="above"))
    shapes.append(dict(type="circle", xref=xr, yref=yr, x0=-0.461, x1=-0.239, y0=-0.062, y1=0.062,
                       line=dict(color="#999999", width=3), layer="above"))
    fig.add_trace(go.Scatter(x=[START_XY[0]], y=[START_XY[1]], mode="markers",
                             marker=dict(color=TAB10[0], size=9),
                             xaxis=xr, yaxis=yr, hoverinfo="skip"))
    fig.add_trace(go.Scatter(x=[SOURCE_XY[0]], y=[SOURCE_XY[1]], mode="markers",
                             marker=dict(symbol="circle-open", color="black", size=17,
                                         line=dict(color="black", width=3)),
                             xaxis=xr, yaxis=yr, hoverinfo="skip"))

# ---- manual legend (panel A, last column) ----
LEG_FILL = ["rgba(31,119,180,0.5)", "rgba(255,127,14,0.45)"]
LEG_EDGE = [TAB10[0], TAB10[1]]
LEG_Y = [44.5, 64]

ann = []


def text(x, y, s, size=17, bold=False, xanchor="center", angle=0):
    ann.append(dict(x=px(x), y=py(y), xref="paper", yref="paper",
                    text=("<b>%s</b>" % s) if bold else s, showarrow=False,
                    xanchor=xanchor, yanchor="middle", textangle=angle,
                    font=dict(family=FONT, size=size, color="black")))


for name, fc, ec, yy in zip(LEGEND_NAMES, LEG_FILL, LEG_EDGE, LEG_Y):
    shapes.append(dict(type="rect", xref="paper", yref="paper",
                       x0=px(710), x1=px(722), y0=py(yy + 5.5), y1=py(yy - 5.5),
                       fillcolor=fc, line=dict(color=ec, width=1.5), layer="above"))
    text(727, yy, name, xanchor="left")

for c in range(4):
    cx = (COL_PX[c][0] + COL_PX[c][1]) / 2
    text(cx, 16, PANEL_TITLES[c])
    text(cx, 274, PANEL_TITLES[c])
text(14, 16, "A", bold=True)
text(14, 262, "B", bold=True)
text(19, 116, "Proportion time spent", angle=-90)
text(435, 241, "Angle to source (deg)")
text(91, 421, "Rate-based", bold=True, xanchor="left")
text(91, 603, "Spiking", bold=True, xanchor="left")

layout["annotations"] = ann
layout["shapes"] = shapes
fig.update_layout(**layout)
fig.write_html("out.html", config={"displayModeBar": False, "staticPlot": True},
               post_script="document.body.style.margin='0px';document.body.style.padding='0px';")
